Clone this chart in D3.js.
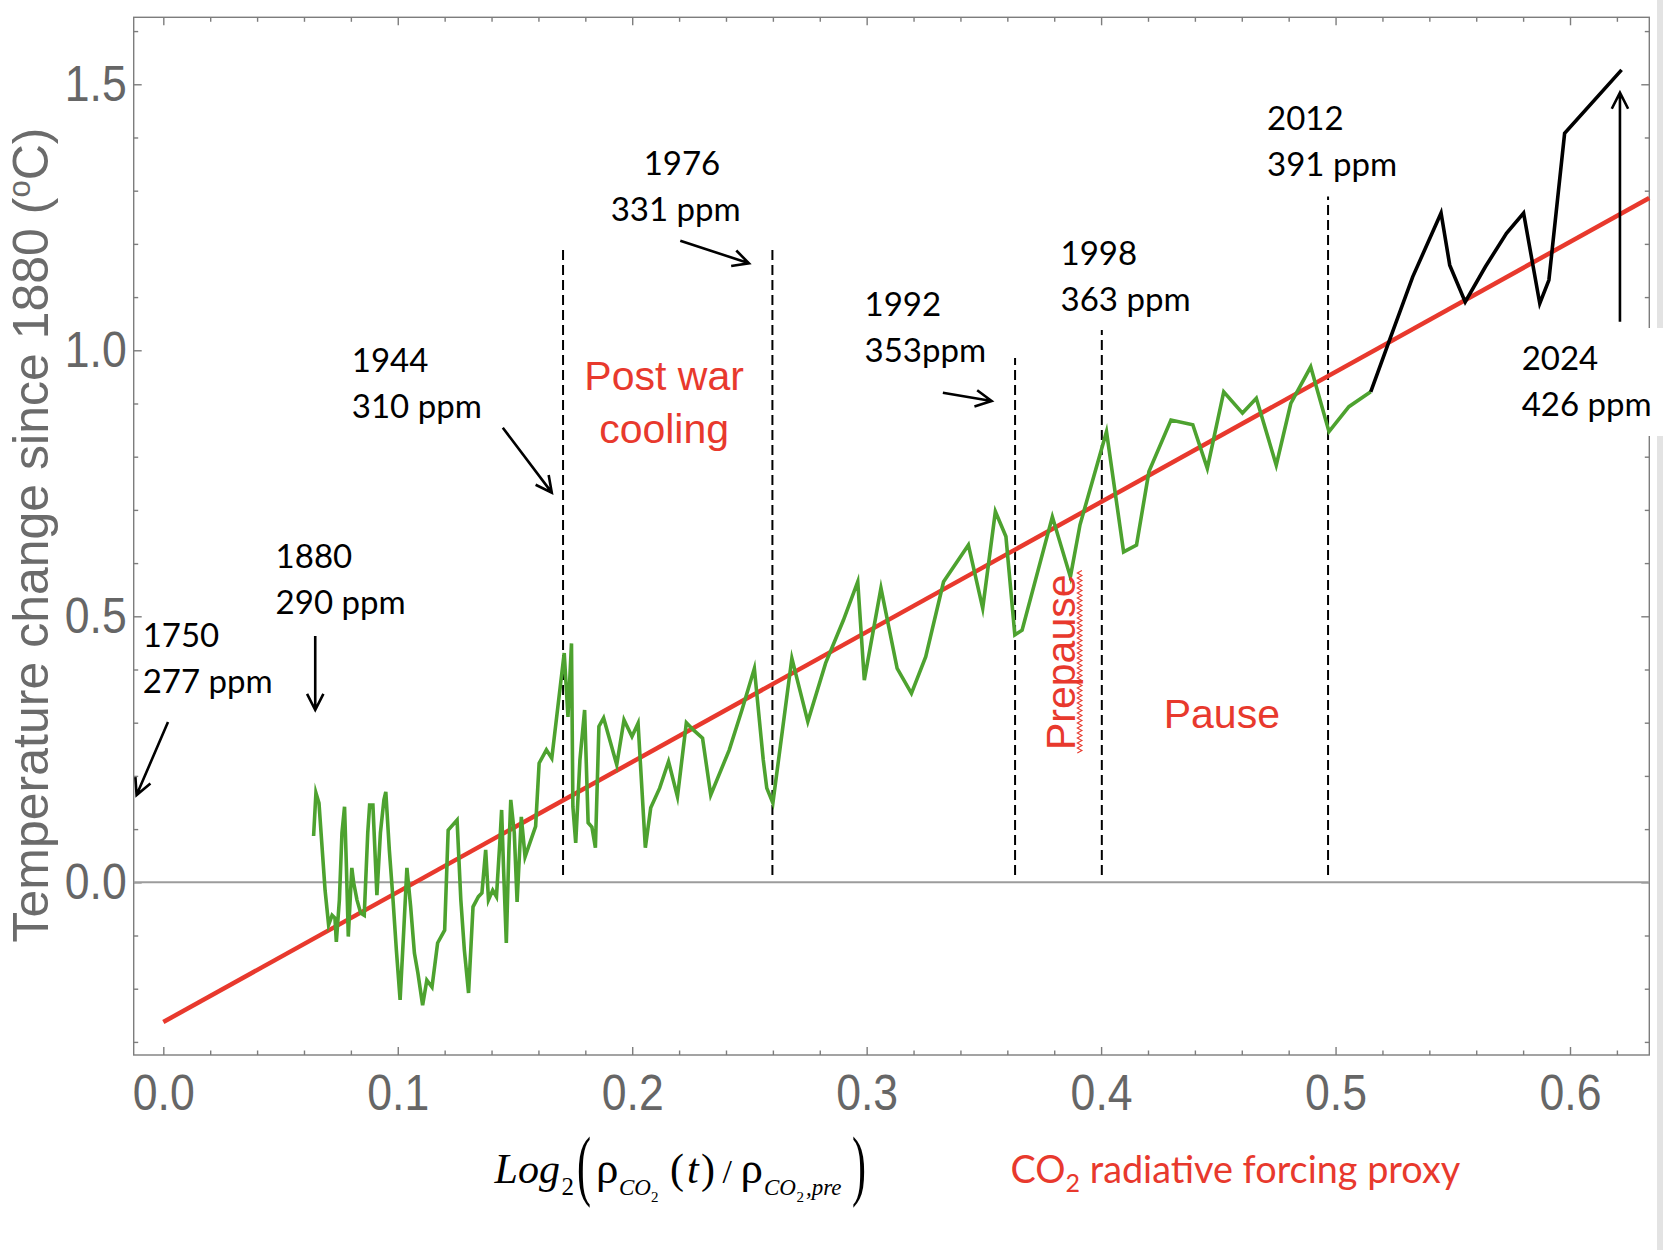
<!DOCTYPE html>
<html><head><meta charset="utf-8">
<script src="https://cdn.jsdelivr.net/npm/d3@7"></script>
<style>body{margin:0;background:#fff}svg{display:block}</style>
</head><body>
<svg id="chart" width="1670" height="1250"></svg>
<script>
// ---------- DATA ----------
// log2(CO2(t)/CO2,pre) forcing proxy and temperature anomaly (°C), green series 1880..~2014
const forcing = [0.0641,0.0651,0.0664,0.0690,0.0705,0.0720,0.0732,0.0738,0.0751,0.0762,0.0773,0.0781,0.0789,0.0804,0.0812,0.0826,0.0842,0.0857,0.0872,0.0880,
0.0894,0.0911,0.0926,0.0941,0.0949,0.0964,0.0979,0.0994,0.1010,0.1025,0.1039,0.1055,0.1071,0.1086,0.1106,0.1124,0.1146,0.1170,0.1200,0.1215,
0.1253,0.1269,0.1284,0.1302,0.1321,0.1344,0.1359,0.1375,0.1387,0.1405,0.1421,0.1436,0.1443,0.1451,0.1463,0.1474,0.1482,0.1497,0.1509,0.1527,
0.1543,0.1558,0.1588,0.1603,0.1634,0.1657,0.1710,0.1726,0.1741,0.1747,0.1759,0.1777,0.1797,0.1812,0.1828,0.1843,0.1858,0.1878,0.1934,0.1965,
0.1999,0.2025,0.2056,0.2079,0.2117,0.2155,0.2193,0.2231,0.2262,0.2300,0.2335,0.2414,0.2468,0.2521,0.2559,0.2574,0.2600,0.2681,0.2749,0.2825,
0.2901,0.2962,0.2990,0.3061,0.3130,0.3191,0.3252,0.3328,0.3434,0.3495,0.3549,0.3594,0.3632,0.3663,0.3792,0.3869,0.3910,0.4023,0.4096,0.4151,
0.4204,0.4298,0.4391,0.4453,0.4523,0.4603,0.4662,0.4747,0.4809,0.4894,0.4972,0.5057,0.5150];
const temperature = [0.087,0.168,0.149,-0.015,-0.080,-0.062,-0.067,-0.112,-0.033,0.093,0.142,0.029,-0.102,0.027,-0.001,-0.033,-0.058,-0.062,0.093,0.145,
0.145,-0.024,0.093,0.155,0.170,0.061,-0.028,-0.127,-0.221,-0.095,0.027,-0.046,-0.133,-0.171,-0.231,-0.184,-0.197,-0.114,-0.090,0.098,
0.117,-0.033,-0.127,-0.208,-0.046,-0.027,-0.020,0.061,-0.033,-0.015,-0.027,0.080,0.136,0.029,-0.114,0.061,0.155,0.093,-0.037,0.123,
0.048,0.067,0.105,0.224,0.249,0.233,0.431,0.311,0.449,0.142,0.074,0.230,0.324,0.112,0.104,0.065,0.293,0.309,0.221,0.305,
0.274,0.299,0.065,0.140,0.177,0.227,0.161,0.300,0.286,0.271,0.164,0.249,0.324,0.402,0.230,0.177,0.149,0.421,0.302,0.412,
0.493,0.565,0.380,0.553,0.402,0.355,0.424,0.565,0.634,0.515,0.697,0.650,0.465,0.474,0.687,0.574,0.672,0.847,0.621,0.634,
0.772,0.869,0.860,0.778,0.922,0.882,0.910,0.784,0.900,0.969,0.847,0.894,0.922];
// recent years (black)
const forcingRecent = [0.5150,0.5236,0.5329,0.5450,0.5487,0.5553,0.5639,0.5729,0.5802,0.5871,0.5910,0.5977,0.6220];
const temperatureRecent = [0.922,1.026,1.138,1.258,1.160,1.091,1.157,1.220,1.258,1.088,1.132,1.408,1.527];
// fitted trend (end points)
const fitForcing = [0, 0.6338];
const fitTemperature = [-0.2626, 1.2863];
// dashed event markers
const eventForcing = [0.1705, 0.2598, 0.3633, 0.4003, 0.4968];
const eventTop = [1.195, 1.195, 0.9855, 1.038, 1.289];
// annotation texts
const eventYears = ["1750","1880","1944","1976","1992","1998","2012","2024"];
const eventPpm = ["277 ppm","290 ppm","310 ppm","331 ppm","353ppm","363 ppm","391 ppm","426 ppm"];
const xMajorTicks = [0,0.1,0.2,0.3,0.4,0.5,0.6];
const yMajorTicks = [0,0.5,1.0,1.5];

// ---------- LAYOUT ----------
const W = 1670, H = 1250;
const svg = d3.select("#chart");
const x = d3.scaleLinear().domain([-0.01263, 0.63382]).range([133.7, 1649.3]);
const y = d3.scaleLinear().domain([-0.3246, 1.6259]).range([1055, 17.3]);
const frameColor = "#7d7d7d";
const red = "#e8392d";

// label layout in data units: [yearX, yearY, ppmX, ppmY]
const labelLayout = [
  [-0.0088,0.4429,-0.0088,0.3564],
  [0.0479,0.5914,0.0479,0.5049],
  [0.0804,0.9586,0.0804,0.8721],
  [0.2049,1.3295,0.1908,1.2436],
  [0.2991,1.0645,0.2991,0.9780],
  [0.3827,1.1603,0.3827,1.0738],
  [0.4708,1.4141,0.4708,1.3276],
  [0.5794,0.9630,0.5794,0.8765]
];
// arrows in data units: [x1,y1,x2,y2]
const arrowLayout = [
  [0.0020,0.3013,-0.0114,0.1641],
  [0.0648,0.4630,0.0648,0.3239],
  [0.1448,0.8545,0.1657,0.7324],
  [0.2205,1.2061,0.2498,1.1635],
  [0.3325,0.9203,0.3533,0.9046],
  [0.6213,1.0538,0.6213,1.4842]
];

// light slide border
svg.append("rect").attr("x",1657).attr("y",0).attr("width",6).attr("height",H).attr("fill","#e3e3e3");

// frame
svg.append("rect").attr("x",x.range()[0]).attr("y",y.range()[1])
  .attr("width",x.range()[1]-x.range()[0]).attr("height",y.range()[0]-y.range()[1])
  .attr("fill","none").attr("stroke",frameColor).attr("stroke-width",1.4);

// ticks
const xMinor = d3.range(0,32).filter(i=>i%5!==0).map(i=>i*0.02);
const yMinor = d3.range(-3,17).filter(i=>i%5!==0).map(i=>i/10);
function styleAxis(g){
  g.select(".domain").remove();
  g.selectAll("line").attr("stroke",frameColor).attr("stroke-width",1.4);
}
function styleLabels(g){
  g.selectAll("text").attr("font-family","'Liberation Sans', Arial, sans-serif")
   .attr("font-size",50).attr("fill","#666")
   .attr("textLength",62).attr("lengthAdjust","spacingAndGlyphs");
}
const fmt = d3.format(".1f");
// bottom
svg.append("g").attr("transform",`translate(0,${y.range()[0]})`)
  .call(d3.axisBottom(x).tickValues(xMinor).tickSize(-4.5).tickFormat("")).call(styleAxis);
svg.append("g").attr("transform",`translate(0,${y.range()[0]})`)
  .call(d3.axisBottom(x).tickValues(xMajorTicks).tickSize(-8).tickPadding(19).tickFormat(fmt))
  .call(styleAxis).call(styleLabels);
// top
svg.append("g").attr("transform",`translate(0,${y.range()[1]})`)
  .call(d3.axisTop(x).tickValues(xMinor).tickSize(-4.5).tickFormat("")).call(styleAxis);
svg.append("g").attr("transform",`translate(0,${y.range()[1]})`)
  .call(d3.axisTop(x).tickValues(xMajorTicks).tickSize(-8).tickFormat("")).call(styleAxis);
// left
svg.append("g").attr("transform",`translate(${x.range()[0]},0)`)
  .call(d3.axisLeft(y).tickValues(yMinor).tickSize(-4.5).tickFormat("")).call(styleAxis);
svg.append("g").attr("transform",`translate(${x.range()[0]},0)`)
  .call(d3.axisLeft(y).tickValues(yMajorTicks).tickSize(-8).tickPadding(7).tickFormat(fmt))
  .call(styleAxis).call(styleLabels);
// right
svg.append("g").attr("transform",`translate(${x.range()[1]},0)`)
  .call(d3.axisRight(y).tickValues(yMinor).tickSize(-4.5).tickFormat("")).call(styleAxis);
svg.append("g").attr("transform",`translate(${x.range()[1]},0)`)
  .call(d3.axisRight(y).tickValues(yMajorTicks).tickSize(-8).tickFormat("")).call(styleAxis);

// zero line
svg.append("line").attr("x1",x.range()[0]).attr("x2",x.range()[1])
  .attr("y1",y(0)).attr("y2",y(0)).attr("stroke","#9c9c9c").attr("stroke-width",2);

// dashed event lines
svg.append("g").selectAll("line").data(eventForcing).join("line")
  .attr("x1",d=>x(d)).attr("x2",d=>x(d))
  .attr("y1",y(0.0139)).attr("y2",(d,i)=>y(eventTop[i]))
  .attr("stroke","#000").attr("stroke-width",2).attr("stroke-dasharray","10,5");

const line = d3.line().x(d=>x(d[0])).y(d=>y(d[1]));
// trend line
svg.append("path").datum(d3.zip(fitForcing,fitTemperature)).attr("d",line)
  .attr("fill","none").attr("stroke",red).attr("stroke-width",4.5);
// green series
svg.append("path").datum(d3.zip(forcing,temperature)).attr("d",line)
  .attr("fill","none").attr("stroke","#4da22f").attr("stroke-width",3.6)
  .attr("stroke-linejoin","miter").attr("stroke-miterlimit",6);
// black recent series
svg.append("path").datum(d3.zip(forcingRecent,temperatureRecent)).attr("d",line)
  .attr("fill","none").attr("stroke","#000").attr("stroke-width",3.6)
  .attr("stroke-linejoin","miter").attr("stroke-miterlimit",6);

// white box behind 2024 label
svg.append("rect").attr("x",1515).attr("y",328).attr("width",155).attr("height",108).attr("fill","#fff");

// arrows
function arrow(a){
  const x1=x(a[0]),y1=y(a[1]),x2=x(a[2]),y2=y(a[3]);
  const th=Math.atan2(y2-y1,x2-x1), L=18, s=27*Math.PI/180;
  const w1=[x2-L*Math.cos(th-s),y2-L*Math.sin(th-s)], w2=[x2-L*Math.cos(th+s),y2-L*Math.sin(th+s)];
  return `M${x1},${y1}L${x2},${y2}M${w1[0]},${w1[1]}L${x2},${y2}L${w2[0]},${w2[1]}`;
}
svg.append("g").selectAll("path").data(arrowLayout).join("path")
  .attr("d",arrow).attr("fill","none").attr("stroke","#000").attr("stroke-width",2.6);

// event labels
const lab = svg.append("g").attr("font-family","Lato, 'Open Sans', sans-serif").attr("font-size",33).attr("fill","#000");
lab.selectAll("text.yr").data(eventYears).join("text").attr("class","yr")
  .attr("x",(d,i)=>x(labelLayout[i][0])).attr("y",(d,i)=>y(labelLayout[i][1])).text(d=>d);
lab.selectAll("text.ppm").data(eventPpm).join("text").attr("class","ppm")
  .attr("x",(d,i)=>x(labelLayout[i][2])).attr("y",(d,i)=>y(labelLayout[i][3])).text(d=>d);

// red period labels
const rl = svg.append("g").attr("font-family","'Liberation Sans', Arial, sans-serif").attr("font-size",41).attr("fill",red);
rl.append("text").attr("x",x(0.2136)).attr("y",y(0.9254)).attr("text-anchor","middle").text("Post war");
rl.append("text").attr("x",x(0.2136)).attr("y",y(0.8258)).attr("text-anchor","middle").text("cooling");
rl.append("text").attr("x",x(0.4267)).attr("y",y(0.2895)).text("Pause");
const px = x(0.3887), py = y(0.2487);
rl.append("text").attr("transform",`translate(${px},${py}) rotate(-90)`).text("Prepause");
// spell-check squiggle
const sq = d3.range(0,74).map(i=>[px+5+(i%2?2.3:-2.3), py+3-i*2.5]);
svg.append("path").attr("d",d3.line()(sq)).attr("fill","none").attr("stroke",red).attr("stroke-width",1.1);

// y axis title
const yt = svg.append("text").attr("transform","translate(48,535) rotate(-90)")
  .attr("text-anchor","middle").attr("font-family","'Liberation Sans', Arial, sans-serif")
  .attr("font-size",50).attr("fill","#6b6b6b");
yt.append("tspan").text("Temperature change since 1880 (");
yt.append("tspan").attr("font-size",31).attr("dy",-18).text("o");
yt.append("tspan").attr("dy",18).text("C)");

// x axis title (math)
const serif = "'Liberation Serif','Times New Roman',serif";
const mt = svg.append("g").attr("font-family",serif).attr("fill","#000");
const pieces = [
  ["Log",494.6,1183,42,true],["2",561.5,1195,25,false],
  ["\u03c1",596,1183,45,false],["CO",619,1195,23,true],["2",651,1202,15,false],
  ["(",670,1183,42,false],["t",687,1183,42,true],[")",701,1183,42,false],
  ["/",722.5,1183,34,false],
  ["\u03c1",740.5,1183,45,false],["CO",764,1195,23,true],["2",796.5,1202,15,false],[",pre",806,1195,23,true]
];
pieces.forEach(p=>mt.append("text").attr("x",p[1]).attr("y",p[2]).attr("font-size",p[3])
  .attr("font-style",p[4]?"italic":"normal").text(p[0]));
mt.append("text").attr("transform","translate(577,1191.3) scale(1,1.85)").attr("font-size",42).text("(");
mt.append("text").attr("transform","translate(852,1191.3) scale(1,1.85)").attr("font-size",42).text(")");

// CO2 radiative forcing proxy
const ct = svg.append("text").attr("x",1010.5).attr("y",1183).attr("font-family","Lato, 'Open Sans', sans-serif")
  .attr("font-size",37.8).attr("fill",red);
ct.append("tspan").text("CO");
ct.append("tspan").attr("font-size",25).attr("dy",9).text("2");
ct.append("tspan").attr("dy",-9).text(" radiative forcing proxy");
</script>
</body></html>
